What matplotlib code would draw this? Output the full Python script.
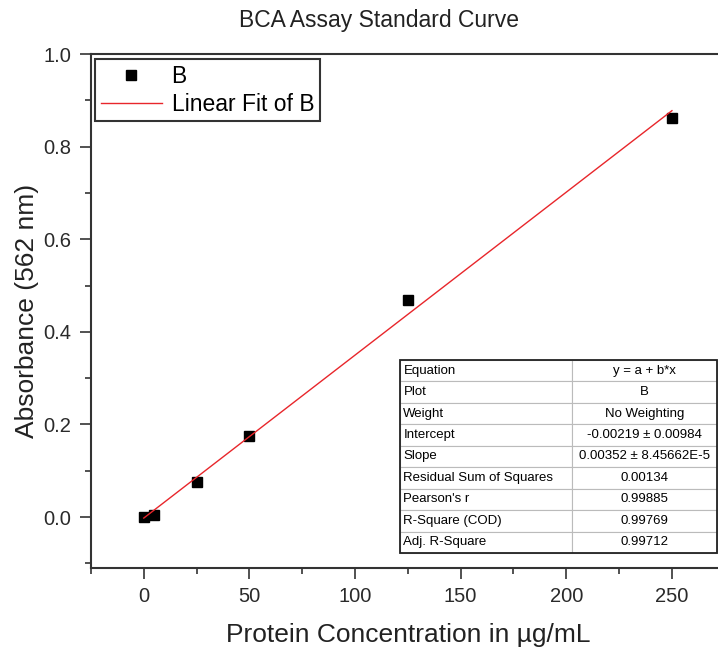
import matplotlib
matplotlib.use("Agg")
import matplotlib.pyplot as plt
from matplotlib.ticker import MultipleLocator

plt.rcParams['font.family'] = ['Liberation Sans', 'DejaVu Sans']

# Standard concentrations (µg/mL) and measured absorbance at 562 nm
concentration = [0, 5, 25, 50, 125, 250]
absorbance = [0.0, 0.004, 0.076, 0.175, 0.469, 0.861]

# Linear fit parameters
intercept = -0.00219
slope = 0.00352

fit_labels = ["Equation", "Plot", "Weight", "Intercept", "Slope",
              "Residual Sum of Squares", "Pearson's r", "R-Square (COD)",
              "Adj. R-Square"]
fit_values = ["y = a + b*x", "B", "No Weighting", "-0.00219 \u00b1 0.00984",
              "0.00352 \u00b1 8.45662E-5", "0.00134", "0.99885", "0.99769",
              "0.99712"]

fig = plt.figure(figsize=(7.18, 6.48), dpi=100)
ax = fig.add_axes([0.1267, 0.1235, 0.8827, 0.793])

ax.plot(concentration, absorbance, linestyle='none', marker='s',
        markersize=7.5, color='black', label='B', zorder=3)
fit_x = [concentration[0], concentration[-1]]
fit_y = [intercept + slope * x for x in fit_x]
ax.plot(fit_x, fit_y, color='#e8262b', linewidth=1.0,
        label='Linear Fit of B', zorder=4)

ax.set_xlim(-25, 275)
ax.set_ylim(-0.11, 1.0)
ax.xaxis.set_major_locator(MultipleLocator(50))
ax.xaxis.set_minor_locator(MultipleLocator(25))
ax.yaxis.set_major_locator(MultipleLocator(0.2))
ax.yaxis.set_minor_locator(MultipleLocator(0.1))
ax.set_yticks([0.0, 0.2, 0.4, 0.6, 0.8, 1.0])
ax.set_yticklabels(['0.0', '0.2', '0.4', '0.6', '0.8', '1.0'])
ax.set_xticks([0, 50, 100, 150, 200, 250])

for side in ['left', 'bottom', 'top', 'right']:
    ax.spines[side].set_color('#333333')
    ax.spines[side].set_linewidth(1.5)
ax.tick_params(which='major', direction='out', length=8, width=1.2,
               colors='#333333', labelsize=14.5, labelcolor='#2a2a2a', pad=6)
ax.tick_params(which='minor', direction='out', length=4, width=1.2,
               colors='#333333')
ax.tick_params(top=False, right=False, which='both')

ax.set_xlabel('Protein Concentration in \u00b5g/mL', fontsize=19,
              color='#222222', labelpad=12)
ax.set_ylabel('Absorbance (562 nm)', fontsize=19, color='#222222',
              labelpad=3)
fig.text(0.528, 0.968, 'BCA Assay Standard Curve', fontsize=16.5,
         ha='center', va='center', color='#222222')

leg = ax.legend(loc='upper left', bbox_to_anchor=(0.006, 0.99),
                fontsize=16.5, frameon=True, fancybox=False,
                edgecolor='black', borderpad=0.25, handlelength=2.7,
                handletextpad=0.4, labelspacing=0.2, borderaxespad=0.0)
leg.get_frame().set_linewidth(1.5)

rows = [[a, b] for a, b in zip(fit_labels, fit_values)]
table = ax.table(cellText=rows, cellLoc='center', colWidths=[0.543, 0.457],
                 bbox=[0.4875, 0.029, 0.5002, 0.376], zorder=5)
table.auto_set_font_size(False)
table.set_fontsize(9.5)
for (r, c), cell in table.get_celld().items():
    cell.set_edgecolor('#bbbbbb')
    cell.set_linewidth(0.8)
    cell.set_facecolor('white')
    if c == 0:
        cell.set_text_props(ha='left')
        cell.PAD = 0.02
# outer border of the table
ax.add_patch(plt.Rectangle((0.4875, 0.029), 0.5002, 0.376,
                           transform=ax.transAxes, fill=False,
                           edgecolor='#222222', linewidth=1.3, zorder=6))

fig.savefig('out.png', dpi=100)
